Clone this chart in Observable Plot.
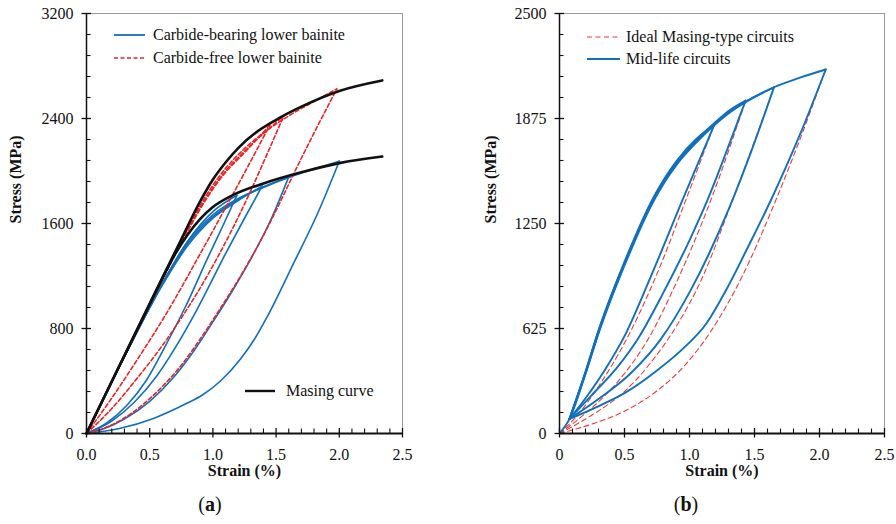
<!DOCTYPE html>
<html><head><meta charset="utf-8">
<script src="https://cdn.jsdelivr.net/npm/d3@7"></script>
<script src="https://cdn.jsdelivr.net/npm/@observablehq/plot@0.6"></script>
<style>
body{margin:0;background:#fff;}
#wrap{display:flex;width:896px;height:524px;overflow:hidden;}
</style></head><body><div id="wrap"></div>
<script>
// ---------- Panel (a): strain (%) vs stress (MPa) ----------
const aXTicks = [0, 0.5, 1.0, 1.5, 2.0, 2.5];
const aYTicks = [0, 800, 1600, 2400, 3200];
const aLegend = ["Carbide-bearing lower bainite", "Carbide-free lower bainite", "Masing curve"];

// Masing curves (black)
const masingUpper = [[0,0],[0.25,495],[0.5,990],[0.75,1480],[0.9,1770],[1.0,1935],[1.1,2065],[1.2,2175],[1.35,2300],[1.5,2390],[1.7,2490],[2.0,2610],[2.34,2690]];
const masingLower = [[0,0],[0.25,495],[0.5,985],[0.7,1365],[0.8,1515],[0.9,1635],[1.0,1725],[1.15,1812],[1.4,1905],[1.7,1990],[2.0,2060],[2.34,2110]];

// Carbide-bearing lower bainite (blue): loading and unloading branches
const cbUpB = [[0,0],[0.3,590],[0.6,1145],[0.8,1465],[1.0,1690],[1.19,1815]];
const cbUpC = [[0,0],[0.3,585],[0.6,1130],[0.8,1430],[1.0,1640],[1.2,1775],[1.39,1885]];
const cbUpD = [[0,0],[0.3,585],[0.6,1135],[0.8,1445],[1.0,1650],[1.2,1780],[1.4,1880],[1.6,1955]];
const cbUpE = [[0,0],[0.3,585],[0.6,1140],[0.8,1460],[1.0,1665],[1.2,1790],[1.4,1875],[1.6,1950],[1.8,2015],[2.0,2075]];
const cbDnB = [[0,0],[0.16,80],[0.32,215],[0.47,400],[0.62,660],[0.78,960],[0.96,1340],[1.08,1585],[1.19,1815]];
const cbDnC = [[0,0],[0.2,95],[0.38,240],[0.55,430],[0.7,650],[0.87,937],[1.113,1394],[1.25,1640],[1.39,1885]];
const cbDnD = [[0,0],[0.12,30],[0.3,110],[0.5,245],[0.7,440],[0.85,630],[1.0,850],[1.15,1080],[1.3,1330],[1.45,1610],[1.6,1955]];
const cbDnE = [[0,0],[0.26,38],[0.53,115],[0.79,228],[0.92,295],[1.06,400],[1.22,570],[1.33,720],[1.43,890],[1.64,1300],[1.83,1680],[2.0,2075]];

// Carbide-free lower bainite (red dashed)
const cfUp1 = [[0,0],[0.3,590],[0.6,1170],[0.8,1540],[0.95,1790],[1.1,1990],[1.25,2140],[1.45,2350]];
const cfUp2 = [[0,0],[0.3,590],[0.6,1175],[0.8,1550],[0.95,1800],[1.1,2000],[1.25,2150],[1.4,2285],[1.56,2420]];
const cfUp4 = [[0,0],[0.3,590],[0.6,1180],[0.8,1560],[0.95,1820],[1.1,2020],[1.25,2170],[1.4,2290],[1.6,2420],[1.8,2530],[1.98,2625]];
const cfDn1 = [[0,0],[0.2,270],[0.4,560],[0.646,937],[0.9,1370],[1.1,1720],[1.28,2040],[1.45,2350]];
const cfDn2 = [[0,0],[0.2,190],[0.4,420],[0.6,670],[0.75,880],[0.9,1110],[1.03,1330],[1.16,1570],[1.29,1830],[1.42,2110],[1.56,2420]];
const cfDn4 = [[0,0],[0.15,45],[0.35,150],[0.55,310],[0.75,520],[0.9,720],[1.05,940],[1.2,1170],[1.35,1420],[1.5,1700],[1.64,1980],[1.8,2290],[1.98,2625]];

// ---------- Panel (b) ----------
const bXTicks = [0, 0.5, 1.0, 1.5, 2.0, 2.5];
const bXLabels = ["0", "0.5", "1.0", "1.5", "2.0", "2.5"];
const bYTicks = [0, 625, 1250, 1875, 2500];
const bLegend = ["Ideal Masing-type circuits", "Mid-life circuits"];

// Mid-life circuits (blue)
const mlUp1 = [[0.077,87],[0.19,345],[0.308,632],[0.5,1022],[0.726,1410],[0.906,1628],[1.05,1752],[1.188,1833]];
const mlUp2 = [[0.077,87],[0.19,340],[0.308,627],[0.5,1015],[0.726,1403],[0.906,1620],[1.05,1745],[1.188,1845],[1.3,1920],[1.432,1982]];
const mlUp3 = [[0.077,87],[0.19,335],[0.308,620],[0.5,1008],[0.726,1395],[0.906,1612],[1.05,1737],[1.188,1838],[1.3,1910],[1.432,1976],[1.55,2025],[1.65,2061]];
const mlUp4 = [[0,0],[0.077,87],[0.19,330],[0.308,613],[0.5,1000],[0.726,1387],[0.906,1605],[1.05,1730],[1.188,1833],[1.3,1905],[1.432,1972],[1.55,2022],[1.65,2061],[1.85,2118],[2.048,2167]];
const mlDn1 = [[0.077,87],[0.2,210],[0.35,380],[0.5,580],[0.7,930],[0.945,1387],[1.188,1833]];
const mlDn2 = [[0.077,87],[0.25,230],[0.45,400],[0.6,560],[0.8,840],[1.0,1150],[1.137,1387],[1.29,1690],[1.432,1982]];
const mlDn3 = [[0.077,87],[0.3,205],[0.55,360],[0.778,560],[1.0,840],[1.15,1070],[1.304,1340],[1.48,1690],[1.65,2061]];
const mlDn4 = [[0.077,87],[0.256,147],[0.513,246],[0.75,375],[0.95,505],[1.13,655],[1.3,880],[1.45,1110],[1.625,1387],[1.85,1780],[2.048,2167]];

// Ideal Masing-type circuits (red dashed)
const imDn1 = [[0,0],[0.15,120],[0.3,280],[0.51,553],[0.75,950],[0.97,1387],[1.188,1833]];
const imDn2 = [[0,0],[0.2,120],[0.45,310],[0.675,553],[0.9,900],[1.163,1387],[1.432,1982]];
const imDn3 = [[0,0],[0.25,110],[0.5,250],[0.7,420],[0.9,640],[1.1,930],[1.317,1360],[1.5,1740],[1.65,2061]];
const imDn4 = [[0,0],[0.256,58],[0.513,138],[0.75,254],[0.95,394],[1.163,607],[1.4,927],[1.663,1387],[1.85,1752],[2.048,2167]];

// ---------- helpers ----------
const BLUE = "#1170bd", RED = "#ec2327", RED_B = "#ef3a3a", BLACK = "#111";
const FONT = "'Liberation Serif', 'Times New Roman', serif";
const toRows = (list) => list.flatMap(([id, arr]) => arr.map(([x, y]) => ({x, y, id})));

const aBlue = toRows([["uB",cbUpB],["uC",cbUpC],["uD",cbUpD],["uE",cbUpE],["dB",cbDnB],["dC",cbDnC],["dD",cbDnD],["dE",cbDnE]]);
const aRed = toRows([["u1",cfUp1],["u2",cfUp2],["u4",cfUp4],["d1",cfDn1],["d2",cfDn2],["d4",cfDn4]]);
const aBlack = toRows([["mu",masingUpper],["ml",masingLower]]);
const bBlue = toRows([["u1",mlUp1],["u2",mlUp2],["u3",mlUp3],["u4",mlUp4],["d1",mlDn1],["d2",mlDn2],["d3",mlDn3],["d4",mlDn4]]);
const bRed = toRows([["d1",imDn1],["d2",imDn2],["d3",imDn3],["d4",imDn4]]);

function minors(majors, n) {
  const out = [];
  for (let i = 0; i < majors.length - 1; i++) {
    const step = (majors[i+1] - majors[i]) / n;
    for (let k = 1; k < n; k++) out.push(majors[i] + k * step);
  }
  return out;
}

// Axis tick marks as rules: minor ticks point inward, major ticks cross the axis.
// Tick lengths are in pixels, converted to data units via the frame size.
function tickMarks(xT, yT, xMax, yMax, fw, fh) {
  const px = xMax / fw, py = yMax / fh;
  const st = {stroke: "#111", clip: false};
  return [
    Plot.ruleX(minors(xT, 5), {...st, x: d => d, y1: 0, y2: 4.5 * py, strokeWidth: 1.1}),
    Plot.ruleX(xT, {...st, x: d => d, y1: -4.5 * py, y2: 5 * py, strokeWidth: 1.3}),
    Plot.ruleY(minors(yT, 5), {...st, y: d => d, x1: 0, x2: 4.5 * px, strokeWidth: 1.1}),
    Plot.ruleY(yT, {...st, y: d => d, x1: -4.5 * px, x2: 5 * px, strokeWidth: 1.3}),
  ];
}

function labelAxes(xT, xFmt, yT) {
  return [
    Plot.axisX(xT, {tickSize: 0, tickPadding: 15, tickFormat: xFmt, label: null, fontSize: 16, fontFamily: FONT}),
    Plot.axisY(yT, {tickSize: 0, tickPadding: 13, tickFormat: d => String(d), label: null, fontSize: 16, fontFamily: FONT})
  ];
}

function addLegend(svg, items) {
  const g = d3.select(svg).append("g").attr("font-family", FONT).attr("font-size", 16).attr("text-anchor", "start");
  for (const it of items) {
    g.append("line").attr("x1", it.x1).attr("x2", it.x2).attr("y1", it.y).attr("y2", it.y)
      .attr("stroke", it.stroke).attr("stroke-width", it.w).attr("stroke-dasharray", it.dash || null);
    g.append("text").attr("x", it.tx).attr("y", it.y).attr("dy", "0.32em").attr("fill", "#111")
      .attr("text-anchor", "start").text(it.text);
  }
}
function addPanelLabel(svg, x, y, letter) {
  const t = d3.select(svg).append("text").attr("x", x).attr("y", y).attr("text-anchor", "middle")
    .attr("font-family", FONT).attr("font-size", 20).attr("fill", "#111");
  t.append("tspan").text("(");
  t.append("tspan").attr("font-weight", "bold").text(letter);
  t.append("tspan").text(")");
}

const lineOpts = {x: "x", y: "y", z: "id", curve: "monotone-x"};

// ---------- Panel (a) ----------
const plotA = Plot.plot({
  width: 448, height: 524,
  marginLeft: 86, marginRight: 46, marginTop: 13, marginBottom: 91,
  style: {fontFamily: FONT, fontSize: "16px", background: "white", color: "#111", overflow: "visible"},
  x: {domain: [0, 2.5], label: null},
  y: {domain: [0, 3200], label: null},
  marks: [
    Plot.frame({stroke: "#999", strokeWidth: 1}),
    Plot.line(aBlue, {...lineOpts, stroke: BLUE, strokeWidth: 1.6}),
    Plot.line(aRed, {...lineOpts, stroke: RED, strokeWidth: 1.6, strokeDasharray: "4,2.5"}),
    Plot.line(aBlack, {...lineOpts, stroke: BLACK, strokeWidth: 2.6}),
    Plot.ruleX([0], {stroke: "#111", strokeWidth: 1.5}),
    Plot.ruleY([0], {stroke: "#111", strokeWidth: 2.2}),
    ...tickMarks(aXTicks, aYTicks, 2.5, 3200, 316, 420),
    ...labelAxes(aXTicks, d3.format(".1f"), aYTicks),
    Plot.text(["Stress (MPa)"], {frameAnchor: "left", dx: -71, rotate: -90, fontWeight: "bold", fontSize: 16, fontFamily: FONT, fill: "#111"}),
    Plot.text(["Strain (%)"], {frameAnchor: "bottom", dy: 42, fontWeight: "bold", fontSize: 16, fontFamily: FONT, fill: "#111"})
  ]
});
addLegend(plotA, [
  {x1: 114, x2: 145, y: 35, stroke: BLUE, w: 1.8, tx: 153, text: aLegend[0]},
  {x1: 114, x2: 145, y: 58, stroke: RED, w: 1.6, dash: "4,2.5", tx: 153, text: aLegend[1]},
  {x1: 245, x2: 275, y: 391, stroke: BLACK, w: 2.4, tx: 286, text: aLegend[2]}
]);
addPanelLabel(plotA, 210, 511, "a");

// ---------- Panel (b) ----------
const plotB = Plot.plot({
  width: 448, height: 524,
  marginLeft: 111, marginRight: 12, marginTop: 13, marginBottom: 91,
  style: {fontFamily: FONT, fontSize: "16px", background: "white", color: "#111", overflow: "visible"},
  x: {domain: [0, 2.5], label: null},
  y: {domain: [0, 2500], label: null},
  marks: [
    Plot.frame({stroke: "#999", strokeWidth: 1}),
    Plot.line(bRed, {...lineOpts, stroke: RED_B, strokeWidth: 1.1, strokeDasharray: "5,3.5"}),
    Plot.line(bBlue, {...lineOpts, stroke: BLUE, strokeWidth: 1.9}),
    Plot.ruleX([0], {stroke: "#111", strokeWidth: 1.5}),
    Plot.ruleY([0], {stroke: "#111", strokeWidth: 2.2}),
    ...tickMarks(bXTicks, bYTicks, 2.5, 2500, 325, 420),
    ...labelAxes(bXTicks, d => bXLabels[bXTicks.indexOf(d)], bYTicks),
    Plot.text(["Stress (MPa)"], {frameAnchor: "left", dx: -69, rotate: -90, fontWeight: "bold", fontSize: 16, fontFamily: FONT, fill: "#111"}),
    Plot.text(["Strain (%)"], {frameAnchor: "bottom", dy: 42, fontWeight: "bold", fontSize: 16, fontFamily: FONT, fill: "#111"})
  ]
});
addLegend(plotB, [
  {x1: 139, x2: 172, y: 37, stroke: RED_B, w: 1.2, dash: "5,3.5", tx: 178, text: bLegend[0]},
  {x1: 139, x2: 172, y: 59, stroke: BLUE, w: 2, tx: 178, text: bLegend[1]}
]);
addPanelLabel(plotB, 238, 511, "b");

document.getElementById("wrap").append(plotA, plotB);
</script>
</body></html>
